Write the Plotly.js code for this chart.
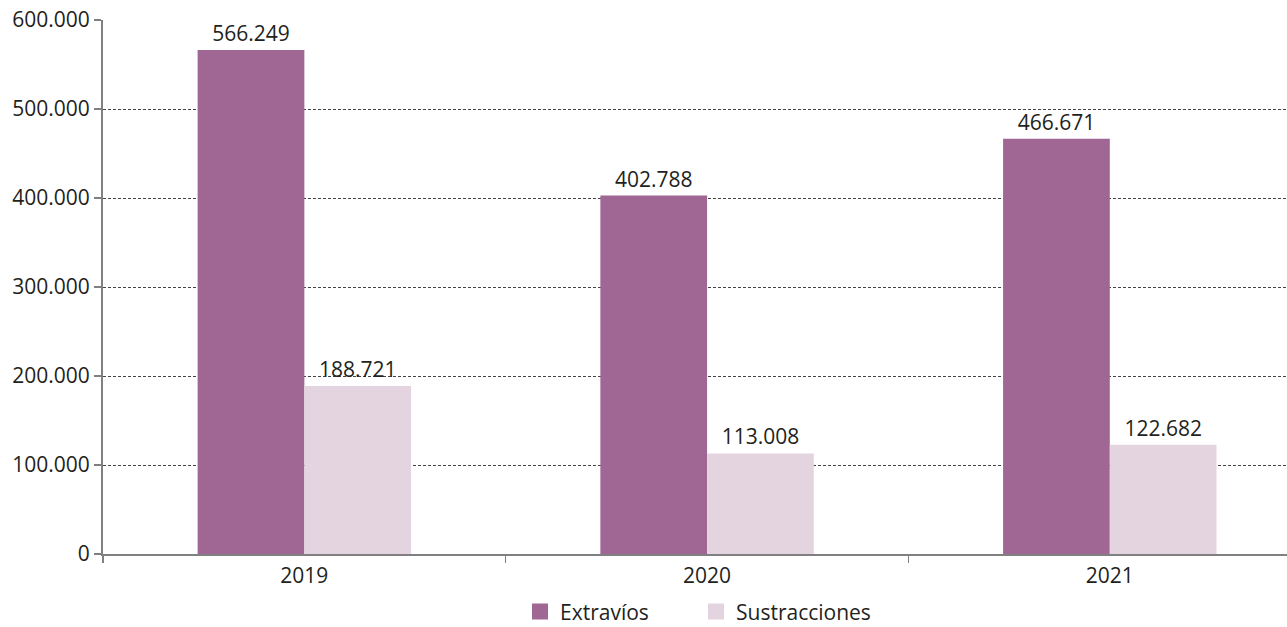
<!DOCTYPE html>
<html><head><meta charset="utf-8">
<script src="https://cdn.plot.ly/plotly-3.0.1.min.js"></script>
<style>html,body{margin:0;padding:0;background:#fff}#chart{width:1287px;height:627px}</style>
</head><body><div id="chart"></div>
<script>
const years = ['2019', '2020', '2021'];
const extravios = [566249, 402788, 466671];
const sustracciones = [188721, 113008, 122682];
const seriesNames = ['Extravíos', 'Sustracciones'];
const seriesColors = ['#a06794', '#e4d4e0'];
const yTicks = [0, 100000, 200000, 300000, 400000, 500000, 600000];
const yTickText = ['0', '100.000', '200.000', '300.000', '400.000', '500.000', '600.000'];

const font = {family: 'Open Sans, sans-serif', size: 21, color: '#231f20'};
const seriesValues = [extravios, sustracciones];
const traces = seriesValues.map((vals, i) => ({
  type: 'bar', name: seriesNames[i], x: years, y: vals,
  marker: {color: seriesColors[i]}, texttemplate: '%{y:,.0f}', textposition: 'outside',
  textfont: font, cliponaxis: false, hoverinfo: 'none', showlegend: false
}));
// legend-only entries with larger square swatches
seriesNames.forEach((n, i) => traces.push({
  type: 'scatter', mode: 'markers', name: n, x: [null], y: [null],
  marker: {symbol: 'square', size: 18, color: seriesColors[i]}, hoverinfo: 'none'
}));

const layout = {
  width: 1287, height: 627,
  margin: {l: 103, r: 0, t: 20, b: 73},
  separators: ',.',
  font: font,
  paper_bgcolor: '#fff', plot_bgcolor: '#fff',
  barmode: 'group', bargap: 0.47, bargroupgap: 0,
  xaxis: {type: 'category', range: [-0.5, 2.44], tickson: 'boundaries',
          ticks: 'outside', ticklen: 7, tickcolor: '#808080', tickwidth: 1.5,
          showline: true, linecolor: '#808080', linewidth: 2, showgrid: false,
          tickfont: font, ticklabelstandoff: 2, fixedrange: true, automargin: false},
  yaxis: {range: [0, 600000], tickvals: yTicks, ticktext: yTickText,
          ticks: 'outside', ticklen: 7, tickcolor: '#808080', tickwidth: 1.5,
          showline: true, linecolor: '#808080', linewidth: 2,
          showgrid: true, gridcolor: '#444', gridwidth: 1, griddash: '3px,2px',
          zeroline: false, tickfont: font, fixedrange: true, automargin: false},
  showlegend: true,
  legend: {orientation: 'h', x: 520 / 1287, xref: 'container', xanchor: 'left',
           y: 0.024, yref: 'container', yanchor: 'middle',
           font: font, itemwidth: 30, entrywidth: 131, entrywidthmode: 'pixels',
           traceorder: 'normal'}
};
Plotly.newPlot('chart', traces, layout, {displayModeBar: false, staticPlot: true});
</script></body></html>
